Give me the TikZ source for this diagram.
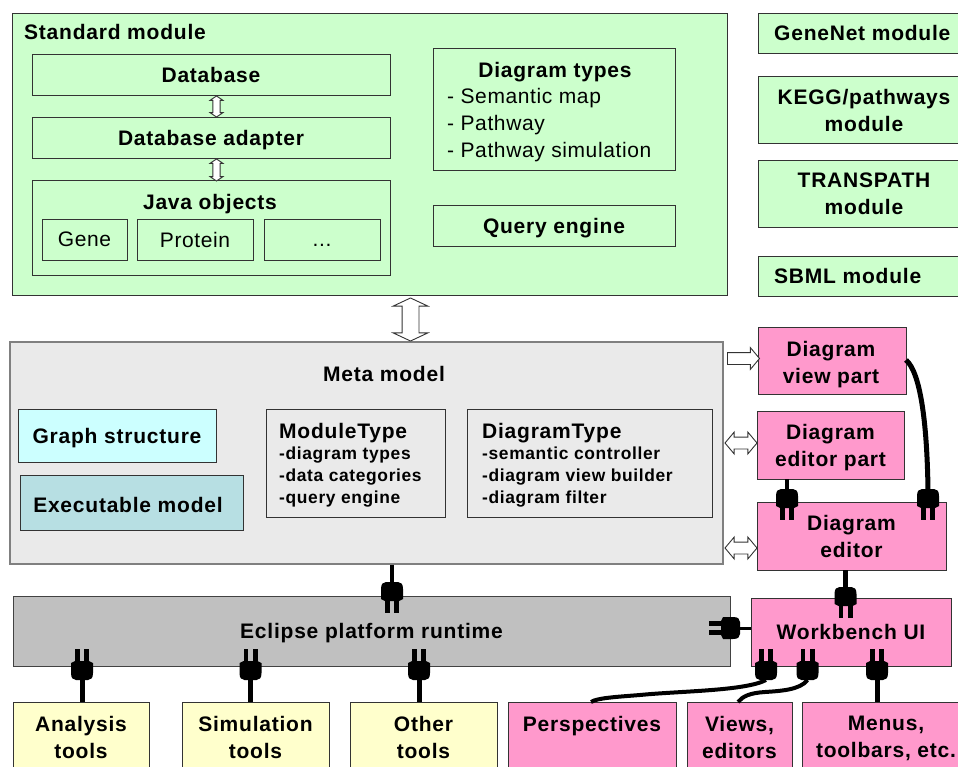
\documentclass[tikz,border=0pt]{standalone}
\usepackage{fontspec}
\setmainfont[UprightFeatures={LetterSpace=2.9},BoldFeatures={LetterSpace=3.7}]{Liberation Sans}
\usetikzlibrary{shapes.arrows}
\definecolor{greenbox}{HTML}{CCFFCC}
\definecolor{metabox}{HTML}{EAEAEA}
\definecolor{cyanbox}{HTML}{CCFFFF}
\definecolor{tealbox}{HTML}{B7DFE3}
\definecolor{pinkbox}{HTML}{FF99CC}
\definecolor{greybox}{HTML}{C0C0C0}
\definecolor{yellowbox}{HTML}{FFFFCC}
\definecolor{edge}{HTML}{333333}
\newcommand{\bx}[7][]{%
  \pgfmathsetmacro{\bxcx}{(#3+#5)/2}%
  \pgfmathsetmacro{\bxcy}{(#4+#6)/2}%
  \pgfmathsetmacro{\bxw}{#5-#3}%
  \pgfmathsetmacro{\bxh}{#6-#4}%
  \node[basebox,#1,minimum width=\bxw pt,minimum height=\bxh pt] (#2) at (\bxcx,\bxcy) {#7};%
}
\tikzset{
  basebox/.style={draw=edge,line width=0.9pt,rectangle,inner sep=0pt,align=center,text depth=0pt,
    font=\fontsize{21}{27}\selectfont\bfseries},
  greenfill/.style={fill=greenbox},
  metafill/.style={fill=metabox},
  pinkfill/.style={fill=pinkbox},
  yellowfill/.style={fill=yellowbox},
  lbl/.style={inner sep=0pt,align=center,text depth=0pt,font=\fontsize{21}{27}\selectfont\bfseries},
  plainlbl/.style={inner sep=0pt,align=left,text depth=0pt,font=\fontsize{21}{27}\selectfont},
  smalllbl/.style={inner sep=0pt,align=left,font=\fontsize{17.4}{22}\selectfont\bfseries},
  cord/.style={line width=4pt,black},
  thickcord/.style={line width=5pt,black},
  blockarrow/.style={draw=edge,fill=white,line width=0.9pt,inner sep=0pt},
  plug/.pic={
    \fill[black] (-11,1) -- (-11,-9) .. controls (-11,-14) and (-9,-16) .. (-6,-16)
      -- (6,-16) .. controls (9,-16) and (11,-14) .. (11,-9) -- (11,1) -- (7,3) -- (-7,3) -- cycle;
    \fill[black] (-7,0) rectangle (-2.2,15);
    \fill[black] (2.2,0) rectangle (7,15);
  }
}
\begin{document}
\begin{tikzpicture}[x=1pt,y=-1pt]
\useasboundingbox (0,0) rectangle (958,767);
\clip (0,0) rectangle (958,767);
\fill[white] (0,0) rectangle (958,767);

% Standard module
\bx[greenfill]{standard}{12}{13}{727}{295}{}
\node[lbl,anchor=west] (standardlbl) at (24,32) {Standard module};
\bx{database}{32}{54}{390}{95}{Database}
\bx{adapter}{32}{117}{390}{158}{Database adapter}
\bx{java}{32}{180}{390}{275}{}
\node[lbl] (javalbl) at (210,202) {Java objects};
\bx[font=\fontsize{21}{27}\selectfont]{gene}{42}{219}{127}{260}{Gene}
\bx[font=\fontsize{21}{27}\selectfont]{protein}{137}{219}{253}{260}{Protein}
\bx[font=\fontsize{21}{27}\selectfont]{dots}{264}{219}{380}{260}{...\vphantom{G}}
\bx{dtypes}{433}{48}{675}{170}{}
\node[lbl] (dtypeslbl) at (555,70) {Diagram types};
\node[plainlbl,anchor=west] (dt1) at (447,96) {- Semantic map};
\node[plainlbl,anchor=west] (dt2) at (447,123) {- Pathway};
\node[plainlbl,anchor=west] (dt3) at (447,150) {- Pathway simulation};
\bx{query}{433}{205}{675}{246}{Query engine}

% Other modules
\bx[greenfill]{genenet}{758}{13}{964}{53}{}
\node[lbl,anchor=west] (genenetlbl) at (774,33) {GeneNet module};
\bx[greenfill]{kegg}{758}{76}{964}{143}{}
\node[lbl] (kegglbl) at (864,110) {KEGG/pathways\\module};
\bx[greenfill]{transpath}{758}{160}{964}{227}{}
\node[lbl] (transpathlbl) at (864,194) {TRANSPATH\\module};
\bx[greenfill]{sbml}{758}{256}{964}{296}{}
\node[lbl,anchor=west] (sbmllbl) at (774,276) {SBML module};

% Meta model
\bx[metafill,draw=gray,line width=1.4pt]{meta}{10}{342}{723}{564}{}
\node[lbl] (metalbl) at (384,374) {Meta model};
\bx[fill=cyanbox]{graph}{18}{409}{216}{462}{Graph structure}
\bx[fill=tealbox]{exec}{20}{475}{243}{530}{}
\node[lbl] (execlbl) at (128,505) {Executable model};
\bx{moduletype}{266}{409}{445}{517}{}
\node[lbl,anchor=west] (mtlbl) at (279,431) {ModuleType};
\node[smalllbl,anchor=north west] (mtlist) at (279,447) {-diagram types\\-data categories\\-query engine};
\bx{diagramtype}{467}{409}{712}{517}{}
\node[lbl,anchor=west] (dtlbl) at (482,431) {DiagramType};
\node[smalllbl,anchor=north west] (dtlist) at (482,447) {-semantic controller\\-diagram view builder\\-diagram filter};

% Pink editor parts
\bx[pinkfill]{viewpart}{758}{327}{906}{394}{}
\node[lbl] (viewpartlbl) at (831,362.5) {Diagram\\view part};
\bx[pinkfill]{editorpart}{757}{411}{904}{479}{Diagram\\editor part}
\bx[pinkfill]{editor}{757}{502}{946}{570}{Diagram\\editor}
\bx[pinkfill]{workbench}{751}{598}{951}{666}{Workbench UI}

% Eclipse
\bx[fill=greybox,draw=edge!80!gray,line width=0.9pt]{eclipse}{13}{596}{730}{666}{Eclipse platform runtime}

% Bottom row
\bx[yellowfill]{analysis}{13}{702}{149}{772}{Analysis\\tools}
\bx[yellowfill]{simulation}{182}{702}{329}{772}{Simulation\\tools}
\bx[yellowfill]{other}{350}{702}{497}{772}{Other\\tools}
\bx[pinkfill]{perspectives}{508}{702}{676}{772}{Perspectives\\\strut}
\bx[pinkfill]{views}{687}{702}{792}{772}{Views,\\editors}
\bx[pinkfill]{menus}{802}{702}{964}{772}{}
\node[lbl] (menuslbl) at (886,737) {Menus,\\toolbars, etc.};

% Block arrows
\node[blockarrow,double arrow,rotate=90,minimum height=21pt,inner ysep=3.2pt,
  double arrow head extend=2.8pt,double arrow tip angle=112,double arrow head indent=0pt] (dbadapter) at (216.5,106.5) {};
\node[blockarrow,double arrow,rotate=90,minimum height=22pt,inner ysep=3.2pt,
  double arrow head extend=2.8pt,double arrow tip angle=112,double arrow head indent=0pt] (adapterjava) at (216.5,170) {};
\node[blockarrow,double arrow,rotate=90,minimum height=43pt,inner ysep=8pt,
  double arrow head extend=9pt,double arrow tip angle=130,double arrow head indent=0pt] (standardmeta) at (410.5,319.5) {};
\node[blockarrow,single arrow,minimum height=32pt,inner ysep=5.5pt,
  single arrow head extend=5pt,single arrow tip angle=100,single arrow head indent=0pt] (metaview) at (741,358.5) {};
\node[blockarrow,double arrow,minimum height=32pt,inner ysep=5.5pt,
  double arrow head extend=5pt,double arrow tip angle=100,double arrow head indent=0pt] (metaeditorpart) at (741,443) {};
\node[blockarrow,double arrow,minimum height=32pt,inner ysep=5.5pt,
  double arrow head extend=5pt,double arrow tip angle=100,double arrow head indent=0pt] (metaeditor) at (741,548) {};

% Plug cords
\coordinate (plugmeta) at (392,582);
\draw[cord] (meta.south -| plugmeta) -- (plugmeta);
\coordinate (plugpart) at (787,490);
\draw[cord] (editorpart.south -| plugpart) -- (plugpart);
\coordinate (plugview) at (928,490);
\coordinate (viewside) at (906,360);
\draw[thickcord] (viewside) .. controls (920,372) and (927,420) .. (plugview);
\coordinate (plugwb) at (845.5,588);
\draw[thickcord] (editor.south -| plugwb) -- (plugwb);
\coordinate (plugleft) at (739,628);
\draw[line width=3pt,black] (workbench.west |- plugleft) -- (plugleft);
\coordinate (pluganalysis) at (82,680);
\draw[thickcord] (pluganalysis) -- (analysis.north -| pluganalysis);
\coordinate (plugsim) at (250.5,680);
\draw[thickcord] (plugsim) -- (simulation.north -| plugsim);
\coordinate (plugother) at (419,680);
\draw[thickcord] (plugother) -- (other.north -| plugother);
\coordinate (plugpersp) at (766,680);
\coordinate (perspend) at (591,702);
\draw[cord] (plugpersp) .. controls (745,691) and (680,691) .. (640,695) .. controls (615,697) and (597,698) .. (perspend);
\coordinate (plugviews) at (807.5,680);
\coordinate (viewsend) at (738,702);
\draw[cord] (plugviews) .. controls (800,690) and (780,691) .. (765,692) .. controls (750,693) and (743,696) .. (viewsend);
\coordinate (plugmenus) at (877,680);
\draw[thickcord] (plugmenus) -- (menus.north -| plugmenus);

% Plugs
\pic at (392,598) {plug};
\pic at (787,505) {plug};
\pic at (928,505) {plug};
\pic at (845.5,603) {plug};
\pic[rotate=-90] at (724,628) {plug};
\pic[rotate=180] at (82,664) {plug};
\pic[rotate=180] at (250.5,664) {plug};
\pic[rotate=180] at (419,664) {plug};
\pic[rotate=180] at (766,664) {plug};
\pic[rotate=180] at (807.5,664) {plug};
\pic[rotate=180] at (877,664) {plug};
\end{tikzpicture}
\end{document}
